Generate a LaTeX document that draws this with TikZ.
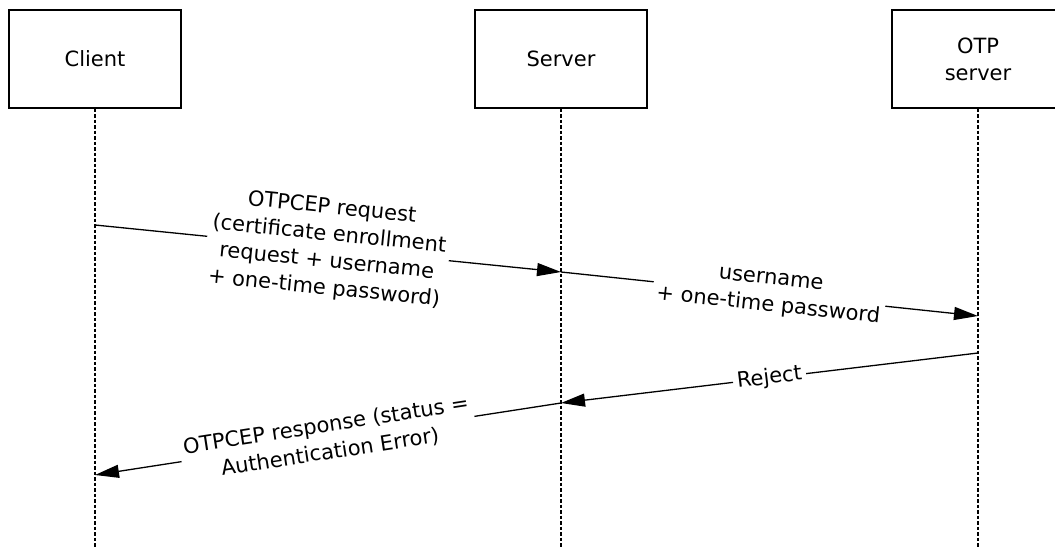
\documentclass[tikz,border=0pt]{standalone}
\usepackage{fontspec}
\setmainfont{DejaVu Sans}
\usetikzlibrary{positioning,arrows.meta}
\tikzstyle{actor}=[draw, minimum height = 98pt, minimum width = 172pt, line width = 1.3pt, align=center]
\tikzstyle{life}=[line width = 1.3pt, dash pattern = on 3.5pt off 2pt]
\tikzstyle{msg}=[-{Triangle[length=24pt,width=13pt]}, line width = 1.3pt]
\tikzstyle{lbl}=[fill=white, sloped, align=center, inner sep = 4pt]

\begin{document}
\begin{tikzpicture}[x=1pt,y=-1pt,font=\fontsize{21}{27}\selectfont]
\clip (0,0) rectangle (1055,548);
\node[actor] at (95,59) (client) {Client};
\node[actor, right of = client, node distance = 466pt] (server) {Server};
\node[actor, right of = server, node distance = 417pt] (otp) {OTP\\server};

% lifelines
\coordinate (bottom) at (0,548);
\draw[life] (client) -- (client |- bottom);
\draw[life] (server) -- (server |- bottom);
\draw[life] (otp) -- (otp |- bottom);

% message ends on the lifelines
\coordinate (c1) at (client |- 0,225);
\coordinate (s1) at (server |- 0,272);
\coordinate (o2) at (otp |- 0,316);
\coordinate (o3) at (otp |- 0,353);
\coordinate (s3) at (server |- 0,403);
\coordinate (c4) at (client |- 0,475);

\draw[msg] (c1) -- node[lbl] {OTPCEP request\\(certificate enrollment\\request + username\\+ one-time password)} (s1);
\draw[msg] (s1) -- node[lbl] {username\\+ one-time password} (o2);
\draw[msg] (o3) -- node[lbl] {Reject} (s3);
\draw[msg] (s3) -- node[lbl] {OTPCEP response (status =\\Authentication Error)} (c4);
\end{tikzpicture}
\end{document}
